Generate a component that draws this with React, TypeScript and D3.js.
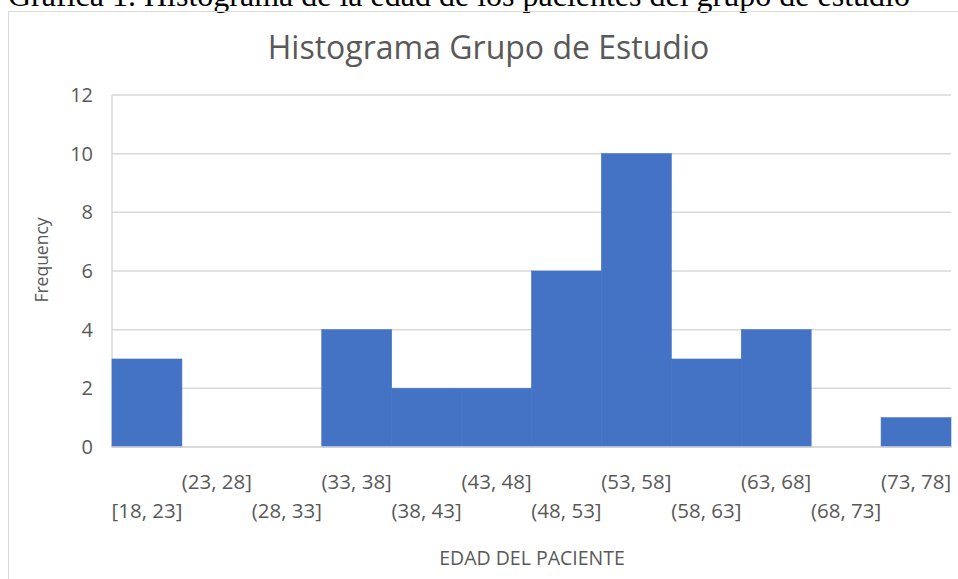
import * as d3 from 'd3'

const bins = ['[18, 23]', '(23, 28]', '(28, 33]', '(33, 38]', '(38, 43]', '(43, 48]', '(48, 53]', '(53, 58]', '(58, 63]', '(63, 68]', '(68, 73]', '(73, 78]']
const freq = [3, 0, 0, 4, 2, 2, 6, 10, 3, 4, 0, 1]
const yTicks = [0, 2, 4, 6, 8, 10, 12]

const W = 958
const H = 579
const plot = { left: 112, right: 951, top: 95, bottom: 447 }
const GREY = '#595959'
const GRID = '#d9d9d9'
const BAR = '#4472C4'
const SANS = '"Open Sans", sans-serif'

export default function App() {
  const x = d3.scaleBand<string>().domain(bins).range([plot.left, plot.right]).padding(0)
  const y = d3.scaleLinear().domain([0, 12]).range([plot.bottom, plot.top])

  return (
    <svg width={W} height={H} style={{ position: 'absolute', left: 0, top: 0, display: 'block' }}>
      <rect width={W} height={H} fill="#fff" />
      {/* caption above the chart, cut off at the top like in the source */}
      <text x={8} y={6} fontFamily='"Liberation Serif", "Times New Roman", serif' fontSize={32} fill="#000">
        Gráfica 1. Histograma de la edad de los pacientes del grupo de estudio
      </text>
      <rect x={8.5} y={11.5} width={W + 20} height={H + 20} fill="none" stroke={GRID} />

      <text x={488.5} y={59} textAnchor="middle" fontFamily={SANS} fontSize={32} fill={GREY}>
        Histograma Grupo de Estudio
      </text>

      {yTicks.map((t) => (
        <g key={t}>
          <line x1={plot.left} x2={plot.right} y1={y(t)} y2={y(t)} stroke={GRID} strokeWidth={1.5} />
          <text x={93} y={y(t)} dy="0.35em" textAnchor="end" fontFamily={SANS} fontSize={20} fill={GREY}>
            {t}
          </text>
        </g>
      ))}
      <line x1={plot.left} x2={plot.left} y1={plot.top} y2={plot.bottom} stroke={GRID} strokeWidth={1.5} />

      {bins.map((b, i) => (
        <rect
          key={b}
          x={x(b)}
          y={y(freq[i])}
          width={x.bandwidth()}
          height={y(0) - y(freq[i])}
          fill={BAR}
          stroke={BAR}
          strokeWidth={0.6}
        />
      ))}
      <line x1={plot.left} x2={plot.right} y1={y(0)} y2={y(0)} stroke={GRID} strokeWidth={1.5} />

      {bins.map((b, i) => (
        <text
          key={b}
          x={(x(b) ?? 0) + x.bandwidth() / 2}
          y={i % 2 === 0 ? 518 : 489}
          textAnchor="middle"
          fontFamily={SANS}
          fontSize={20.5}
          fill={GREY}
        >
          {b}
        </text>
      ))}

      <text
        transform={`translate(48, 260) rotate(-90)`}
        textAnchor="middle"
        fontFamily={SANS}
        fontSize={17.5}
        fill={GREY}
      >
        Frequency
      </text>
      <text x={532} y={565} textAnchor="middle" fontFamily={SANS} fontSize={19.5} fill={GREY}>
        EDAD DEL PACIENTE
      </text>
    </svg>
  )
}
